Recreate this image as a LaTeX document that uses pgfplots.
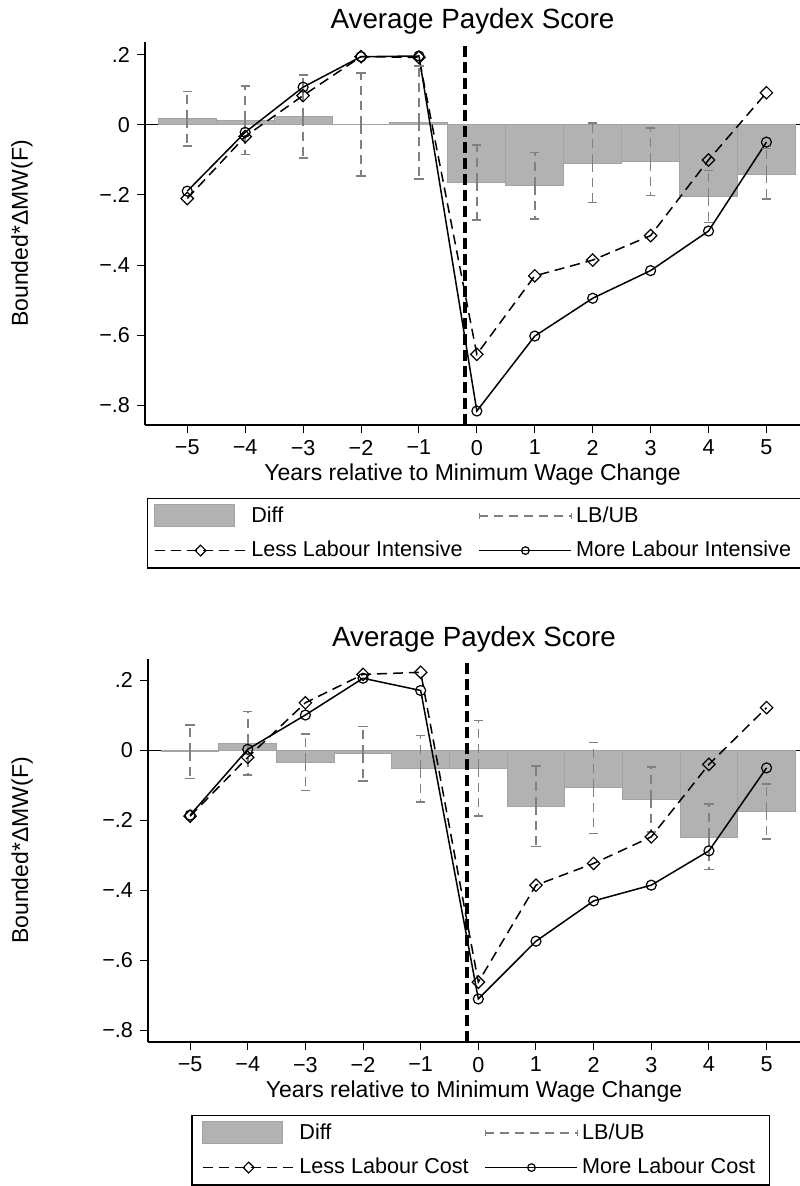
\documentclass[border=0pt]{standalone}
\usepackage{fontspec}
\setmainfont{Liberation Sans}
\usepackage{pgfplots}
\usepackage{pgfplotstable}
\pgfplotsset{compat=1.18}

% x diff lb ub less more
\pgfplotstableread{
x  diff    lb      ub      less    more
-5  0.019  -0.060   0.095  -0.210  -0.189
-4  0.014  -0.084   0.111  -0.033  -0.021
-3  0.024  -0.095   0.143   0.084   0.108
-2  0.002  -0.146   0.148   0.195   0.195
-1  0.007  -0.154   0.169   0.193   0.197
 0 -0.165  -0.271  -0.057  -0.655  -0.817
 1 -0.173  -0.269  -0.078  -0.431  -0.603
 2 -0.110  -0.222   0.005  -0.386  -0.495
 3 -0.105  -0.202  -0.008  -0.316  -0.416
 4 -0.205  -0.279  -0.130  -0.100  -0.303
 5 -0.141  -0.212  -0.067   0.092  -0.049
}\toptab

\pgfplotstableread{
x  diff    lb      ub      less    more
-5 -0.005  -0.081   0.071  -0.189  -0.186
-4  0.019  -0.071   0.110  -0.021   0.002
-3 -0.035  -0.116   0.046   0.135   0.100
-2 -0.011  -0.089   0.067   0.216   0.205
-1 -0.053  -0.148   0.041   0.222   0.170
 0 -0.052  -0.189   0.084  -0.663  -0.711
 1 -0.160  -0.276  -0.045  -0.386  -0.546
 2 -0.108  -0.238   0.022  -0.324  -0.431
 3 -0.141  -0.234  -0.048  -0.248  -0.386
 4 -0.250  -0.341  -0.154  -0.041  -0.288
 5 -0.176  -0.254  -0.097   0.121  -0.051
}\bottab

\pgfplotsset{
  paydex/.style={
    scale only axis, height=191.5pt,
    xmin=-5.73, xmax=5.58,
    axis x line*=bottom, axis y line*=left,
    axis line style={-, line width=0.6pt},
    tick align=outside, major tick length=4pt,
    tick style={black, line width=0.5pt},
    xtick={-5,...,5}, xticklabels={−5,−4,−3,−2,−1,0,1,2,3,4,5},
    ytick={-0.8,-0.6,-0.4,-0.2,0,0.2}, yticklabels={−.8,−.6,−.4,−.2,0,.2},
    ticklabel style={font=\fontsize{10.8}{12}\selectfont},
    title={Average Paydex Score},
    title style={at={(axis description cs:0.5,1)}, anchor=base, yshift=0.5pt,
      font=\fontsize{13.9}{16}\selectfont},
    xlabel={Years relative to Minimum Wage Change},
    xlabel style={at={(axis description cs:0.5,0)}, anchor=base, yshift=-27.5pt,
      font=\fontsize{11.5}{13}\selectfont},
    ylabel={Bounded*ΔMW(F)},
    ylabel style={anchor=center, font=\fontsize{11.5}{13}\selectfont},
    legend columns=2, legend cell align=left,
    legend style={draw=black, line width=0.6pt, anchor=north,
      font=\fontsize{10.8}{12}\selectfont,
      /tikz/every even column/.append style={column sep=6pt}, row sep=4pt},
  },
  diffbar/.style={ybar, bar width=1, fill=black!30, draw=black!36, line width=0.5pt,
    legend image code/.code={\draw[fill=black!30, draw=black!36, line width=0.5pt]
      (0pt,-5.5pt) rectangle (40pt,5.5pt);}},
  ciplot/.style={draw=none, mark=none,
    legend image code/.code={
      \draw[black!50, line width=0.75pt, dash pattern=on 4.5pt off 3pt] (0pt,0pt) -- (46pt,0pt);
      \draw[black!50, line width=0.6pt] (0pt,-1.6pt) -- (0pt,1.6pt) (46pt,-1.6pt) -- (46pt,1.6pt);},
    error bars/.cd, y dir=both, y explicit, error mark=none,
    error bar style={draw=black!50, line width=0.8pt, dash pattern=on 4.5pt off 3pt}},
  cicap/.style={forget plot, only marks, mark=-, mark size=2.3pt,
    mark options={draw=black!50, line width=0.75pt, solid}},
  lineimg/.style={legend image code/.code={
      \draw[##1, mark repeat=2, mark phase=2, mark size=1.9pt]
      plot coordinates {(0pt,0pt) (23pt,0pt) (46pt,0pt)};}},
  lessline/.style={black, line width=0.75pt, dash pattern=on 5pt off 3pt,
    mark=square, mark size=2.2pt, mark options={solid, rotate=45, line width=0.6pt}, lineimg},
  moreline/.style={black, line width=0.75pt, solid,
    mark=o, mark size=2.5pt, mark options={solid, line width=0.6pt}, lineimg},
  vline/.style={forget plot, black, line width=2pt, dash pattern=on 5.5pt off 2.5pt},
  zeroline/.style={forget plot, black, line width=0.5pt},
}

\begin{document}
\begin{tikzpicture}
\useasboundingbox (0pt,0pt) rectangle (399.5pt,-593pt);

% upper panel
\begin{axis}[paydex, at={(72.5pt,-212.5pt)}, anchor=south west, width=327.5pt,
    ymin=-0.857, ymax=0.237,
    ylabel style={at={(axis description cs:-0.188,0.5)}},
    legend style={at={(axis description cs:0.503,-0.1906)}}]
\addplot[zeroline] coordinates {(-5.73,0) (5.58,0)};
\addplot[diffbar] table[x=x, y=diff] \toptab;
\addlegendentry{Diff}
\addplot[vline] coordinates {(-0.2,-0.857) (-0.2,0.237)};
\addplot[ciplot] table[x=x, y expr={(\thisrow{lb}+\thisrow{ub})/2},
    y error expr={(\thisrow{ub}-\thisrow{lb})/2}] \toptab;
\addlegendentry{LB/UB}
\addplot[cicap] table[x=x, y=lb] \toptab;
\addplot[cicap] table[x=x, y=ub] \toptab;
\addplot[lessline] table[x=x, y=less] \toptab;
\addlegendentry{Less Labour Intensive}
\addplot[moreline] table[x=x, y=more] \toptab;
\addlegendentry{More Labour Intensive}
\end{axis}

% lower panel
\begin{axis}[paydex, at={(74pt,-521pt)}, anchor=south west, width=326pt,
    ymin=-0.834, ymax=0.26,
    ylabel style={at={(axis description cs:-0.193,0.5)}},
    legend style={at={(axis description cs:0.510,-0.1906)}, inner xsep=5pt}]
\addplot[zeroline] coordinates {(-5.73,0) (5.58,0)};
\addplot[diffbar] table[x=x, y=diff] \bottab;
\addlegendentry{Diff}
\addplot[vline] coordinates {(-0.2,-0.834) (-0.2,0.26)};
\addplot[ciplot] table[x=x, y expr={(\thisrow{lb}+\thisrow{ub})/2},
    y error expr={(\thisrow{ub}-\thisrow{lb})/2}] \bottab;
\addlegendentry{LB/UB}
\addplot[cicap] table[x=x, y=lb] \bottab;
\addplot[cicap] table[x=x, y=ub] \bottab;
\addplot[lessline] table[x=x, y=less] \bottab;
\addlegendentry{Less Labour Cost}
\addplot[moreline] table[x=x, y=more] \bottab;
\addlegendentry{More Labour Cost}
\end{axis}
\end{tikzpicture}
\end{document}
